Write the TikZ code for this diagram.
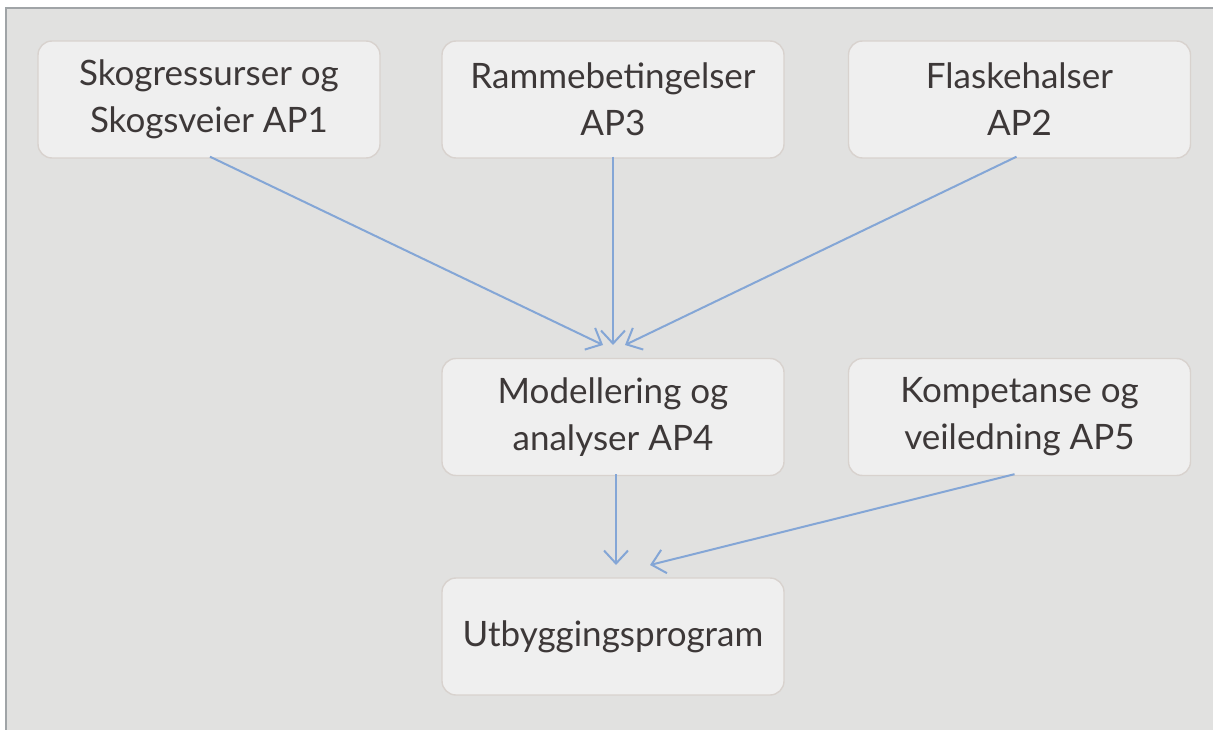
\documentclass[tikz,border=0pt]{standalone}
\usepackage{fontspec}
\setmainfont{Lato}
\usetikzlibrary{arrows.meta}
\definecolor{bg}{HTML}{E1E1E0}
\definecolor{frame}{HTML}{A0A4A7}
\definecolor{boxfill}{HTML}{EFEFEF}
\definecolor{boxline}{HTML}{D8D2CE}
\definecolor{txt}{HTML}{3D3838}
\definecolor{arr}{HTML}{84A6D6}
\tikzset{
  box/.style={draw=boxline, line width=1.4pt, fill=boxfill, rounded corners=14pt,
    minimum width=342pt, minimum height=117pt, align=center, text=txt,
    font=\fontsize{35}{47}\selectfont, inner sep=0pt},
  conn/.style={draw=arr, line width=2pt, -{Straight Barb[length=13pt,width=24pt,line width=2pt]}}
}
\begin{document}
\begin{tikzpicture}[x=1pt,y=-1pt]
\useasboundingbox (0,0) rectangle (1213,730);
\fill[white] (0,0) rectangle (1213,730);
\fill[bg] (6,8) rectangle (1213,730);
\draw[frame, line width=2pt] (6,730) -- (6,8) -- (1213,8);
\node[box] (b1) at (209,99.5) {Skogressurser og\\Skogsveier AP1};
\node[box] (b2) at (613,99.5) {Rammebetingelser\\AP3};
\node[box] (b3) at (1019.5,99.5) {Flaskehalser\\AP2};
\node[box] (b4) at (613,417) {Modellering og\\analyser AP4};
\node[box] (b5) at (1019.5,417) {Kompetanse og\\veiledning AP5};
\node[box] (b6) at (613,636.5) {Utbyggingsprogram};
\coordinate (t1) at (603,345);
\coordinate (t2) at (613,345);
\coordinate (t3) at (625,345);
\coordinate (t4) at (616,565);
\coordinate (t5) at (650,565);
\draw[conn] ([xshift=1pt,yshift=2pt]b1.south) -- (t1);
\draw[conn] ([yshift=2pt]b2.south) -- (t2);
\draw[conn] ([xshift=-3pt,yshift=2pt]b3.south) -- (t3);
\draw[conn] ([xshift=3pt,yshift=2pt]b4.south) -- (t4);
\draw[conn] ([xshift=-5pt,yshift=2pt]b5.south) -- (t5);
\end{tikzpicture}
\end{document}
